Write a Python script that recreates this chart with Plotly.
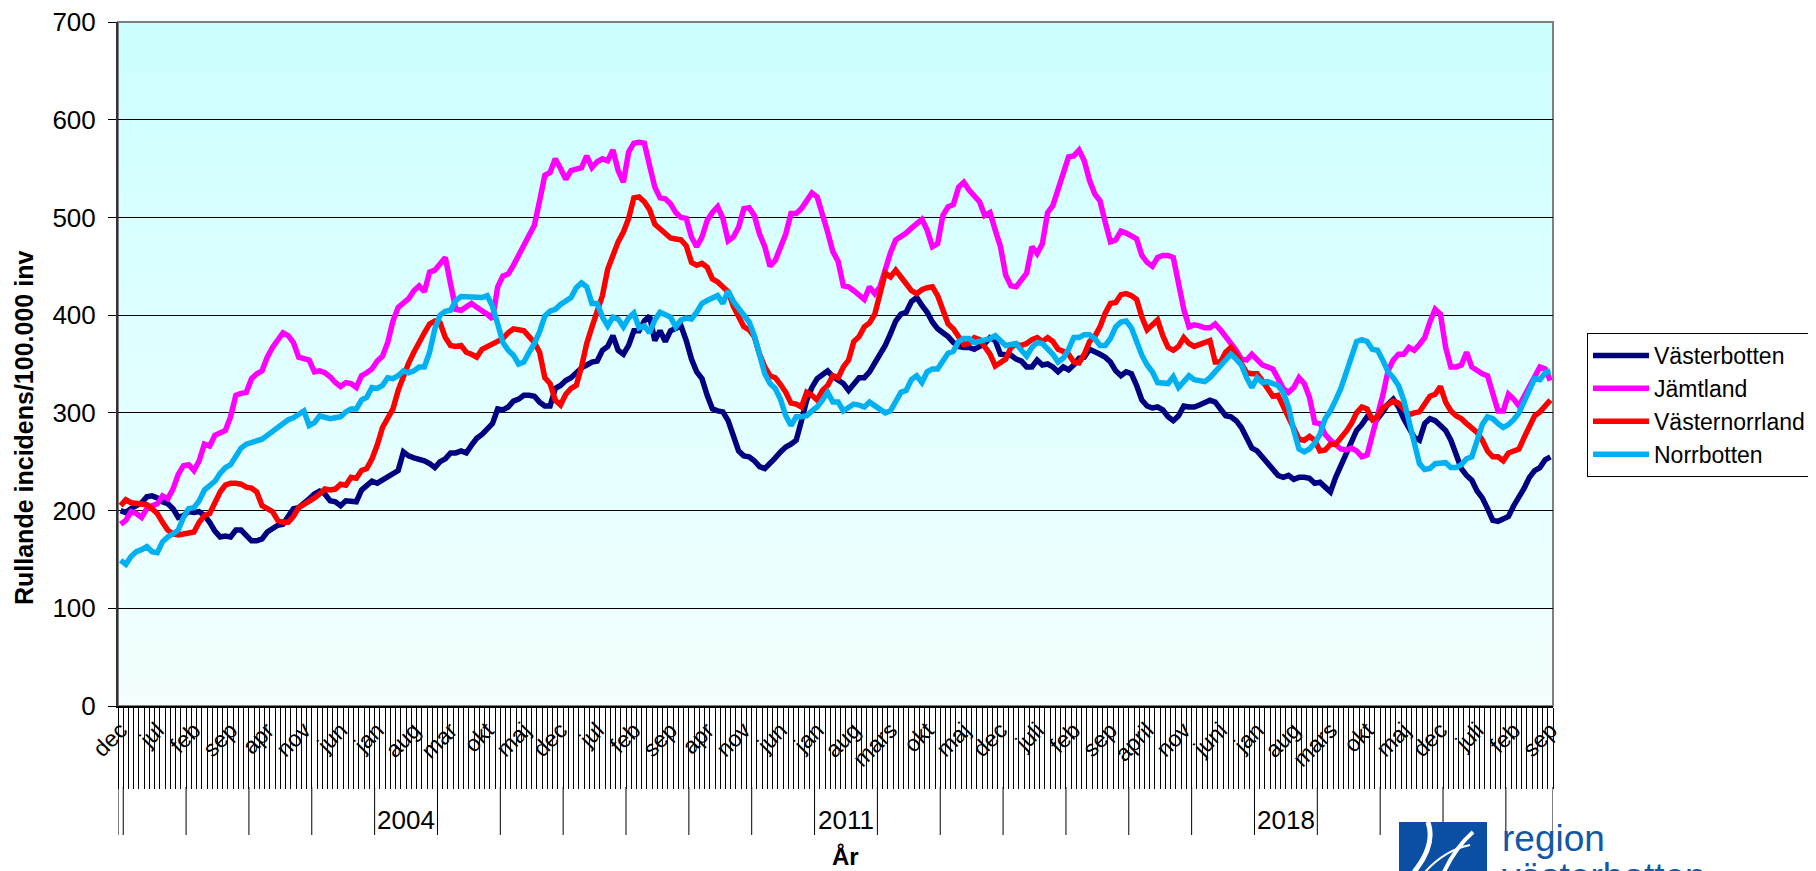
import plotly.graph_objects as go

# ---------------- data (monthly, Dec 1999 .. Sep 2022) ----------------
vasterbotten = [
    200,198,202,205,208,214,215,213,209,207,202,193,195,199,198,199,195,188,179,173,174,173,180,180,174,169,169,171,178,181,185,186,195,202,203,207,212,217,220,217,210,209,205,210,210,
    209,221,225,230,228,231,235,238,241,260,256,254,253,251,248,244,250,253,259,259,261,259,267,274,278,284,289,304,303,306,312,314,318,318,317,311,307,307,325,328,333,336,342,346,349,352,
    353,364,368,379,364,360,369,384,384,394,399,374,384,373,384,387,389,374,355,342,335,318,304,302,301,292,275,261,256,255,251,245,243,248,254,260,265,268,272,292,313,326,335,339,343,337,
    334,330,323,330,336,336,342,351,360,369,381,394,401,403,414,418,410,403,393,386,382,378,372,368,367,367,365,368,371,377,374,360,360,359,355,353,347,347,354,349,350,347,342,347,344,349,
    356,357,365,363,360,357,352,343,338,342,340,328,313,307,305,306,303,296,292,297,307,306,306,308,311,313,311,304,297,296,292,285,273,264,261,255,249,242,236,234,236,232,234,234,233,228,
    229,224,219,234,246,256,267,282,288,296,294,294,301,309,314,306,294,284,275,272,289,294,292,287,282,272,256,243,236,231,220,213,202,190,189,191,194,205,213,223,234,241,244,252,255,
]
jamtland = [
    186,190,199,197,193,202,205,207,215,212,222,237,246,247,241,251,268,266,277,280,282,296,318,320,321,335,340,343,357,367,374,382,379,372,357,355,354,342,343,341,337,331,327,331,330,
    326,338,341,345,353,358,372,394,408,413,417,425,430,424,444,446,453,459,432,406,405,409,412,408,405,401,396,429,440,442,451,461,471,483,492,517,543,546,560,550,539,548,550,551,563,551,
    557,560,558,569,548,536,567,576,577,576,553,531,520,519,514,505,500,499,480,470,480,497,505,511,499,476,480,490,509,510,502,483,470,450,456,470,483,504,504,509,517,525,521,505,485,465,
    455,430,429,425,420,416,429,422,429,449,464,477,480,484,489,493,498,487,470,473,502,511,513,531,536,528,522,516,502,505,487,470,441,430,429,435,443,470,463,473,505,512,529,548,562,563,
    569,558,538,524,517,495,475,477,486,484,481,478,461,454,450,459,461,461,459,432,406,388,390,389,387,387,391,385,378,372,364,355,354,360,355,349,347,345,335,325,321,326,336,330,316,290,
    289,278,272,268,263,262,264,261,255,257,278,294,318,343,354,360,360,367,364,370,377,393,406,401,367,347,347,349,362,347,343,340,338,319,302,302,319,314,307,317,326,337,347,345,333,
]
vasternorrland = [
    205,211,208,207,207,206,202,197,188,180,176,175,176,177,178,188,195,197,208,219,226,228,228,227,224,223,219,205,202,199,190,188,188,194,203,206,210,213,217,222,221,222,227,226,234,
    233,241,243,253,267,285,294,304,323,339,351,362,373,382,391,394,392,377,369,368,369,362,360,357,365,368,371,373,376,382,386,385,384,378,372,362,336,330,313,308,319,325,328,347,371,388,
    405,420,447,461,475,485,499,520,521,516,508,493,488,483,479,478,477,471,454,451,453,449,437,434,429,424,409,398,388,385,378,360,347,338,336,329,321,310,309,306,321,318,313,323,328,338,
    336,347,354,373,378,388,392,401,425,443,439,446,439,433,425,422,426,428,429,420,406,391,386,379,370,371,377,375,368,360,348,351,355,367,370,369,371,375,377,373,377,373,365,363,360,352,
    351,360,373,378,388,402,412,413,421,422,420,416,398,385,391,395,379,367,364,368,377,371,368,370,373,374,352,352,362,367,360,350,341,340,340,333,325,317,318,306,296,282,273,272,276,272,
    261,262,268,268,274,281,289,300,306,304,293,296,305,308,312,310,303,298,300,301,309,317,319,327,311,302,297,294,289,285,280,272,261,255,255,251,259,261,263,275,286,297,301,307,313,
]
norrbotten = [
    149,145,153,158,160,163,158,157,168,173,176,180,193,202,203,210,221,225,230,238,244,247,255,264,268,270,272,273,277,281,285,290,293,295,299,302,287,290,297,296,294,295,296,301,304,
    304,313,316,326,325,328,336,335,338,343,341,343,347,347,362,386,400,404,405,415,419,419,419,418,418,420,409,391,372,364,359,350,352,362,371,383,399,404,406,411,415,418,428,433,429,412,
    412,398,389,398,396,388,397,402,387,389,382,395,403,400,398,388,395,397,396,403,412,415,418,420,412,425,414,407,399,393,379,359,340,330,325,314,297,287,296,296,297,302,306,313,321,311,
    311,302,306,309,308,306,311,307,304,300,302,311,321,323,334,338,331,342,345,345,354,361,363,373,376,376,372,373,375,376,379,373,369,370,371,364,358,367,372,371,366,360,352,356,365,377,
    377,380,380,376,369,369,376,388,393,394,387,372,359,349,342,331,330,330,337,326,332,338,334,333,332,336,342,347,354,360,355,349,336,326,336,331,332,330,328,321,306,282,263,260,263,269,
    278,294,302,313,325,341,359,373,375,373,365,364,354,342,336,328,313,292,270,248,242,243,248,249,249,244,244,247,253,255,270,288,296,294,289,285,288,293,300,311,324,335,334,341,343,
]

series_names = ["Västerbotten", "Jämtland", "Västernorrland", "Norrbotten"]
series_colors = ["#000080", "#FF00FF", "#FF0000", "#00B0F0"]

tick_labels = ["dec","jul","feb","sep","apr","nov","jun","jan","aug","mar","okt","maj",
               "dec","jul","feb","sep","apr","nov","jun","jan","aug","mars","okt","maj",
               "dec","juli","feb","sep","april","nov","juni","jan","aug","mars","okt","maj",
               "dec","juli","feb","sep"]
label_step = 7
first_full_year = 2000          # first month is December 1999
year_labels = ["2004", "2011", "2018"]
y_label = "Rullande incidens/100.000 inv"
x_label = "År"

# ---------------- geometry helpers ----------------
# The page body adds an 8 px margin, so the figure is 8 px smaller and
# its margins are reduced by 8 px on the top/left.
OFF = 8
W, H = 1816 - OFF, 871 - OFF
L, R, T, B = 118, 1553, 22, 706          # plot area in screen pixels
def px(p):  # screen pixel x -> paper
    return (p - L) / (R - L)
def py(p):  # screen pixel y -> paper
    return (B - p) / (B - T)

n = len(vasterbotten)
x = list(range(n))
FONT = "Liberation Sans, Arial, sans-serif"

fig = go.Figure()
for name, col, vals in zip(series_names, series_colors,
                           [vasterbotten, jamtland, vasternorrland, norrbotten]):
    fig.add_trace(go.Scatter(x=x, y=vals, mode="lines", name=name,
                             line=dict(color=col, width=5.5)))

shapes = []
# gradient background of the plot area
nb = 70
c_top = (204, 255, 255)
c_bot = (244, 255, 255)
for k in range(nb):
    t = k / (nb - 1)
    r = round(c_bot[0] + (c_top[0] - c_bot[0]) * t)
    g = round(c_bot[1] + (c_top[1] - c_bot[1]) * t)
    b = round(c_bot[2] + (c_top[2] - c_bot[2]) * t)
    shapes.append(dict(type="rect", xref="paper", yref="paper", x0=0, x1=1,
                       y0=k / nb, y1=(k + 1) / nb + 0.002, layer="below",
                       line=dict(width=0), fillcolor=f"rgb({r},{g},{b})"))
# plot border (gray, Excel style)
shapes.append(dict(type="rect", xref="paper", yref="paper", x0=0, x1=1, y0=0, y1=1,
                   layer="below", line=dict(color="#808080", width=2)))

# year separators of the multi-level category axis
year_bounds = [-0.5] + [0.5 + 12 * k for k in range((n - 1) // 12 + 1)] + [n - 0.5]
for xb in year_bounds:
    shapes.append(dict(type="line", xref="x", yref="paper", x0=xb, x1=xb,
                       y0=py(787), y1=py(835), line=dict(color="black", width=1)))

# logo (region västerbotten)
shapes.append(dict(type="rect", xref="paper", yref="paper",
                   x0=px(1399), x1=px(1487), y0=py(822), y1=py(880),
                   line=dict(width=0), fillcolor="#0A4FA3"))
def pth(points):
    s = "M {},{}".format(px(points[0][0]), py(points[0][1]))
    s += " Q {},{} {},{}".format(px(points[1][0]), py(points[1][1]),
                                 px(points[2][0]), py(points[2][1]))
    return s
shapes.append(dict(type="path", xref="paper", yref="paper",
                   path=pth([(1428, 822), (1436, 845), (1414, 872)]),
                   line=dict(color="white", width=5)))
shapes.append(dict(type="path", xref="paper", yref="paper",
                   path=pth([(1473, 832), (1455, 848), (1444, 872)]),
                   line=dict(color="white", width=4)))
shapes.append(dict(type="path", xref="paper", yref="paper",
                   path=pth([(1425, 872), (1445, 850), (1470, 845)]),
                   line=dict(color="white", width=2)))

annotations = []
for yl in year_labels:
    yr = int(yl)
    jan_idx = 1 + (yr - first_full_year) * 12
    annotations.append(dict(x=jan_idx + 5.5, y=py(820), xref="x", yref="paper",
                            text=yl, showarrow=False, xanchor="center", yanchor="middle",
                            font=dict(size=26, color="black", family=FONT)))
annotations.append(dict(x=px(24), y=py(428), xref="paper", yref="paper", text=y_label,
                        textangle=-90, showarrow=False, xanchor="center", yanchor="middle",
                        font=dict(size=25, color="black", family=FONT, weight="bold")))
annotations.append(dict(x=px(845), y=py(856), xref="paper", yref="paper", text=x_label,
                        showarrow=False, xanchor="center", yanchor="middle",
                        font=dict(size=24, color="black", family=FONT, weight="bold")))
annotations.append(dict(x=px(1500), y=py(838), xref="paper", yref="paper", text="region",
                        showarrow=False, xanchor="left", yanchor="middle",
                        font=dict(size=37, color="#1257A8", family=FONT)))
annotations.append(dict(x=px(1500), y=py(876), xref="paper", yref="paper", text="västerbotten",
                        showarrow=False, xanchor="left", yanchor="middle",
                        font=dict(size=37, color="#1257A8", family=FONT)))

fig.update_layout(
    width=W, height=H,
    margin=dict(l=L - OFF, r=1816 - R, t=T - OFF, b=871 - B, pad=0, autoexpand=False),
    paper_bgcolor="white", plot_bgcolor="#E8FFFF",
    font=dict(family=FONT, color="black"),
    shapes=shapes, annotations=annotations,
    hovermode=False,
    legend=dict(x=px(1587), y=py(333), xanchor="left", yanchor="top",
                bgcolor="white", bordercolor="black", borderwidth=1,
                font=dict(size=23, color="black", family=FONT),
                tracegroupgap=0, itemwidth=56),
    xaxis=dict(range=[-0.5, n - 0.5], tickmode="array", automargin=False,
               tickvals=list(range(0, n, label_step)), ticktext=tick_labels,
               tickangle=-45, ticks="", showgrid=False, zeroline=False,
               showline=True, linecolor="black", linewidth=1.5,
               ticklabeloverflow="allow",
               tickfont=dict(size=23, color="black", family=FONT),
               minor=dict(tickmode="array", tickvals=[i - 0.5 for i in range(n + 1)],
                          ticks="outside", ticklen=81, tickwidth=1,
                          tickcolor="black", showgrid=False)),
    yaxis=dict(range=[0, 700], tickmode="array", tickvals=list(range(0, 701, 100)),
               automargin=False, ticklabeloverflow="allow",
               ticks="outside", ticklen=8, tickcolor="black",
               showgrid=True, gridcolor="black", gridwidth=1, zeroline=False,
               showline=True, linecolor="#333333", linewidth=2,
               ticklabelstandoff=7,
               tickfont=dict(size=26, color="black", family=FONT)),
)

fig.write_html("out.html")
